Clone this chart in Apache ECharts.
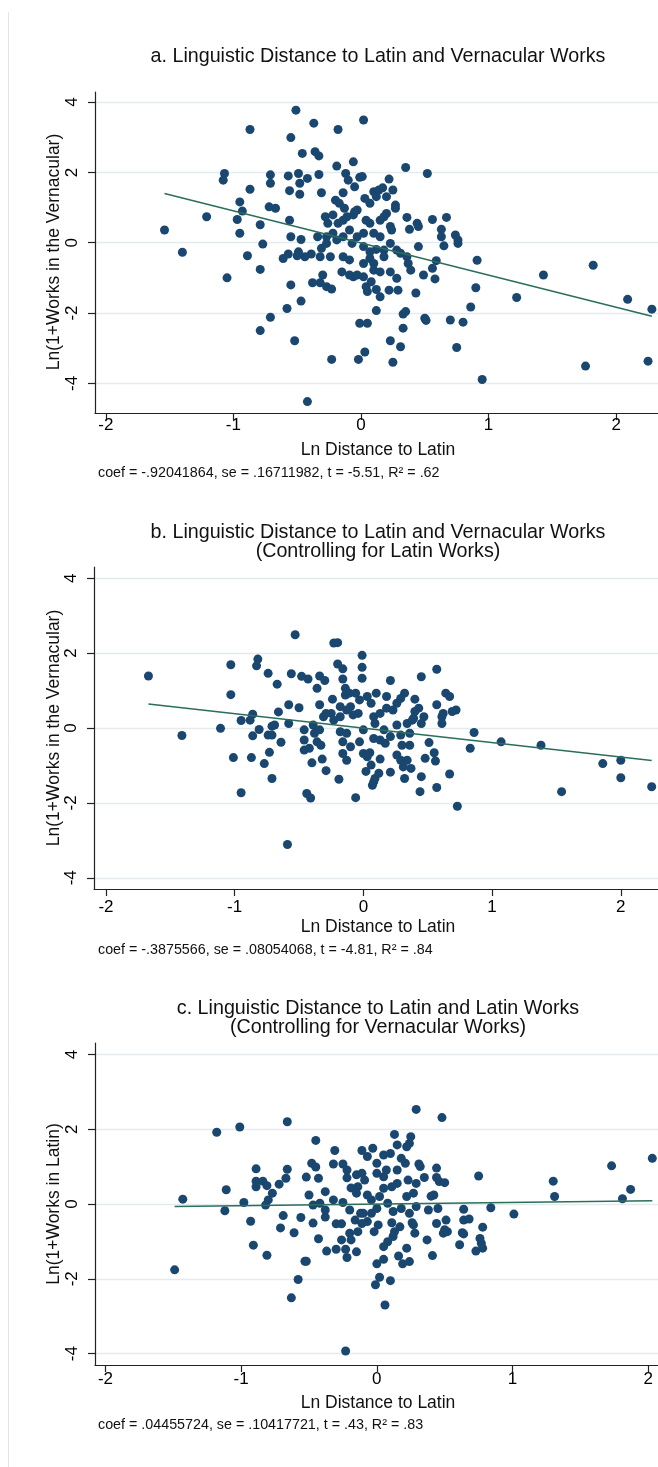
<!DOCTYPE html>
<html>
<head>
<meta charset="utf-8">
<script src="https://cdn.jsdelivr.net/npm/echarts@6/dist/echarts.min.js"></script>
<style>
  html, body { margin: 0; padding: 0; background: #ffffff; }
  #chart { width: 658px; height: 1467px; }
</style>
</head>
<body>
<div id="chart"></div>
<script>
// ---- Data: [ln distance to Latin, outcome] per panel ----

// a. ln(1+vernacular works) vs. ln distance to Latin
const pointsA = [
  [-0.51,3.77],[-0.87,3.22],[-0.37,3.40],[-0.18,3.22],[0.02,3.49],[-0.55,2.99],[-0.46,2.54],[-0.36,2.59],
  [-0.33,2.47],[-0.19,2.18],[-0.06,2.30],[-1.07,1.97],[-1.08,1.78],[-0.71,1.93],[-0.71,1.69],[-0.57,1.90],
  [-0.49,1.97],[-0.42,1.83],[-0.48,1.69],[-0.33,1.94],[-0.12,1.97],[-0.10,1.78],[-0.05,1.59],[-0.01,1.86],
  [0.01,1.88],[-0.87,1.52],[-0.56,1.48],[-0.48,1.38],[-0.31,1.42],[-0.14,1.42],[-0.20,1.21],[-0.17,1.12],
  [-0.13,0.98],[-0.95,1.16],[-0.93,0.90],[-0.72,1.02],[-0.67,0.98],[-1.21,0.74],[-0.97,0.66],[-0.56,0.64],
  [-0.79,0.51],[-1.54,0.36],[-0.95,0.27],[-0.55,0.17],[-0.47,0.09],[-0.77,-0.04],[-1.40,-0.27],[-0.89,-0.37],
  [-0.61,-0.45],[-0.57,-0.32],[-0.50,-0.37],[-0.49,-0.26],[-0.44,-0.40],[-0.39,-0.32],[-0.32,-0.40],[-0.31,-0.16],
  [-0.24,-0.40],[-0.34,0.17],[-0.27,0.17],[-0.26,0.55],[-0.28,0.74],[-0.22,0.79],[-0.18,0.55],[-0.14,0.64],
  [-0.11,0.74],[-0.06,0.79],[-0.05,0.88],[-0.09,0.36],[-0.03,0.17],[-0.22,0.27],[-0.27,-0.02],[-0.19,0.08],
  [-0.14,0.17],[-0.07,-0.02],[-0.14,-0.40],[-0.09,-0.49],[-0.15,-0.83],[-0.09,-0.92],[-0.06,-0.97],[-0.30,-0.92],
  [-0.38,-1.14],[-0.32,-1.14],[-0.27,-1.25],[-0.23,-1.32],[-0.55,-1.20],[-0.47,-1.66],[-0.58,-1.87],[-0.71,-2.12],
  [-0.79,-2.50],[-0.52,-2.79],[-0.23,-3.32],[-0.42,-4.52],[-1.05,-1.00],[-0.79,-0.76],[-0.02,-3.32],[0.03,-3.11],
  [-0.01,-2.29],[0.05,-2.29],[0.35,2.14],[0.52,1.97],[0.22,1.81],[0.25,1.50],[0.10,1.45],[0.14,1.50],
  [0.17,1.56],[0.20,1.31],[0.12,1.31],[0.03,1.26],[0.07,1.12],[-0.03,0.93],[0.27,1.07],[0.27,0.98],
  [0.20,0.83],[0.36,0.72],[0.56,0.66],[0.67,0.72],[0.44,0.55],[0.38,0.38],[0.45,0.46],[0.63,0.38],
  [0.63,0.17],[0.74,0.22],[0.76,0.08],[0.76,-0.02],[0.65,-0.09],[0.45,-0.11],[0.23,0.46],[0.24,0.36],
  [0.23,-0.02],[0.15,0.17],[0.10,0.27],[0.07,0.55],[0.02,0.27],[0.04,0.64],[0.15,0.64],[0.18,0.74],
  [0.02,-0.11],[0.07,-0.26],[0.12,-0.19],[0.18,-0.21],[0.28,-0.21],[0.31,-0.30],[0.36,-0.40],[0.37,-0.59],
  [0.39,-0.78],[0.59,-0.51],[0.56,-0.73],[0.49,-0.92],[0.58,-1.03],[0.91,-0.50],[1.43,-0.92],[1.82,-0.64],
  [0.90,-1.28],[1.22,-1.56],[2.09,-1.61],[2.28,-1.89],[0.86,-1.83],[0.70,-2.20],[0.80,-2.26],[0.50,-2.15],
  [0.51,-2.21],[0.43,-1.43],[0.33,-2.03],[0.35,-1.96],[0.33,-2.43],[0.12,-1.93],[0.23,-2.79],[0.31,-2.96],
  [0.25,-3.40],[0.75,-2.98],[0.95,-3.89],[1.76,-3.51],[2.25,-3.37],[0.12,-1.33],[0.04,-1.25],[0.08,-1.11],
  [0.05,-1.39],[0.15,-1.54],[0.22,-1.35],[0.29,-1.35],[0.28,-1.01],[0.23,-0.83],[0.15,-0.83],[0.10,-0.78],
  [0.02,-0.59],[0.10,-0.59],[0.07,-0.45],[0.18,-0.40],[-0.03,-0.92],[0.02,-0.97]
];
const fitA = [[-1.54, 1.40], [2.28, -2.09]];
const noteA = 'coef = -.92041864, se = .16711982, t = -5.51, R\u00b2 = .62';

// b. ln(1+vernacular works) vs. ln distance to Latin, controlling for Latin works
const pointsB = [
  [-1.67,1.39],[-1.41,-0.20],[-1.11,-0.01],[-1.03,1.69],[-1.03,0.89],[-0.82,1.84],[-0.83,1.66],[-0.74,1.46],
  [-0.67,1.17],[-0.56,1.45],[-0.53,2.49],[-0.48,1.38],[-0.43,1.31],[-0.34,1.39],[-0.30,1.27],[-0.36,1.06],
  [-0.23,2.27],[-0.20,2.28],[-0.20,1.71],[-0.16,1.58],[-0.16,1.31],[-0.14,1.06],[-0.11,0.93],[-0.14,0.88],
  [-0.58,0.62],[-0.50,0.54],[-0.66,0.43],[-0.86,0.37],[-0.88,0.21],[-0.95,0.20],[-0.81,-0.04],[-0.71,0.05],
  [-0.69,0.08],[-0.58,0.12],[-0.74,-0.19],[-0.71,-0.19],[-0.86,-0.21],[-0.64,-0.38],[-0.73,-0.65],[-1.01,-0.79],
  [-0.87,-0.79],[-0.77,-0.95],[-0.71,-1.35],[-0.95,-1.73],[-0.59,-3.11],[-0.44,-1.75],[-0.41,-1.87],[-0.06,-1.86],
  [-0.46,-0.32],[-0.46,-0.05],[-0.39,0.08],[-0.38,-0.14],[-0.34,-0.05],[-0.31,0.30],[-0.29,0.39],[-0.25,0.39],
  [-0.23,0.21],[-0.18,0.30],[-0.13,0.48],[-0.10,0.57],[-0.08,0.35],[-0.34,0.62],[-0.24,0.77],[-0.18,0.57],
  [-0.06,0.93],[-0.46,-0.59],[-0.42,-0.54],[-0.36,-0.37],[-0.33,-0.46],[-0.40,-0.93],[-0.32,-0.83],[-0.29,-1.14],
  [-0.19,-1.37],[-0.13,-0.86],[-0.16,-0.68],[-0.10,-0.50],[-0.16,-0.37],[-0.18,-0.10],[-0.13,-0.14],
  [-0.01,1.94],[-0.01,1.62],[-0.01,1.33],[0.21,1.27],[0.45,1.37],[0.57,1.57],[0.64,0.93],[0.67,0.84],
  [0.57,0.62],[0.72,0.48],[0.69,0.44],[0.62,0.39],[0.61,0.30],[0.61,0.12],[0.40,0.77],[0.32,0.93],
  [0.29,0.79],[0.43,0.53],[0.39,0.26],[0.47,0.30],[0.45,0.12],[0.86,-0.12],[0.83,-0.54],[1.07,-0.37],
  [1.38,-0.46],[1.86,-0.95],[2.00,-0.86],[2.00,-1.33],[1.54,-1.70],[2.24,-1.57],[0.73,-2.09],[0.67,-1.23],
  [0.57,-1.59],[0.44,-1.70],[0.45,-1.30],[0.55,-0.66],[0.56,-0.88],[0.51,-0.39],[0.48,-0.81],[0.37,-1.08],
  [0.32,-1.35],[0.21,-1.18],[0.07,-1.53],[0.09,-1.35],[0.12,-1.21],[0.02,-1.16],[0.06,-0.99],[0.13,-0.83],
  [0.26,-0.72],[0.29,-0.86],[0.34,-0.86],[0.31,-1.04],[0.00,-0.68],[0.05,-0.66],[0.03,-0.77],[-0.03,-0.37],
  [0.08,-0.28],[0.13,-0.32],[0.17,-0.41],[0.21,-0.23],[0.29,-0.19],[0.36,-0.14],[0.36,-0.46],[0.30,-0.46],
  [0.00,-0.05],[0.09,0.12],[0.16,-0.05],[0.26,0.08],[0.34,0.12],[-0.04,0.39],[0.08,0.30],[0.13,0.39],
  [0.18,0.53],[0.23,0.48],[0.38,0.21],[0.40,0.44],[-0.03,0.75],[0.03,0.84],[0.06,0.66],[0.10,0.93],
  [0.18,0.84],[0.26,0.66],[0.08,-1.44]
];
const fitB = [[-1.67, 0.64], [2.24, -0.87]];
const noteB = 'coef = -.3875566, se = .08054068, t = -4.81, R\u00b2 = .84';

// c. ln(1+Latin works) vs. ln distance to Latin, controlling for vernacular works
const pointsC = [
  [-1.49,-1.76],[-1.43,0.13],[-1.18,1.92],[-1.01,2.06],[-0.66,2.20],[-0.45,1.70],[-1.11,0.38],[-1.12,-0.18],
  [-0.98,0.04],[-0.93,-0.46],[-0.91,-1.10],[-0.81,-1.37],[-0.89,0.94],[-0.89,0.61],[-0.89,0.46],[-0.84,0.61],
  [-0.81,0.49],[-0.77,0.29],[-0.80,0.11],[-0.82,-0.03],[-0.72,0.53],[-0.66,0.93],[-0.67,0.69],[-0.69,-0.31],
  [-0.71,-0.64],[-0.61,-0.77],[-0.56,-0.36],[-0.52,0.72],[-0.48,1.09],[-0.45,0.99],[-0.43,0.69],[-0.50,0.24],
  [-0.47,-0.51],[-0.43,-0.93],[-0.53,-1.53],[-0.52,-1.53],[-0.58,-2.02],[-0.63,-2.51],[-0.37,-1.26],[-0.38,0.33],
  [-0.38,-0.35],[-0.47,-0.03],[-0.42,0.02],[-0.38,-0.16],[-0.32,0.11],[-0.25,0.04],[-0.20,-0.16],[-0.31,1.43],
  [-0.32,1.07],[-0.25,1.07],[-0.22,0.91],[-0.22,0.70],[-0.15,0.78],[-0.11,0.82],[-0.09,0.64],[-0.14,0.46],
  [-0.19,0.43],[-0.15,0.29],[-0.07,0.24],[-0.12,-0.25],[-0.16,-0.43],[-0.07,-0.47],[-0.14,-0.74],[-0.11,1.43],
  [-0.07,1.27],[-0.30,-0.53],[-0.26,-0.53],[-0.20,-0.78],[-0.26,-0.96],[-0.19,-0.96],[-0.30,-1.21],[-0.23,-1.21],
  [-0.22,-1.43],[-0.15,-1.28],[-0.23,-3.93],[-0.11,-0.52],[-0.10,-0.25],
  [0.29,2.53],[0.48,2.31],[0.13,1.86],[0.25,1.80],[0.15,1.58],[0.22,1.53],[0.24,1.62],[-0.03,1.49],
  [0.05,1.31],[0.10,1.35],[0.18,1.22],[0.21,1.09],[0.15,0.91],[0.31,1.07],[0.32,1.00],[0.44,0.96],
  [0.35,0.71],[0.44,0.71],[0.46,0.60],[0.50,0.57],[0.75,0.75],[1.30,0.61],[1.31,0.20],[1.73,1.02],
  [2.03,1.22],[1.87,0.39],[1.81,0.14],[0.84,-0.10],[1.01,-0.27],[0.64,-0.14],[0.64,-0.43],[0.68,-0.40],
  [0.78,-0.62],[0.63,-0.77],[0.64,-0.80],[0.61,-1.09],[0.76,-0.92],[0.77,-1.05],[0.78,-1.18],[0.73,-1.26],
  [0.50,-0.69],[0.52,-0.74],[0.49,-0.78],[0.37,-0.96],[0.41,-1.38],[0.44,-0.52],[0.51,-0.43],[0.45,-0.12],
  [0.38,-0.16],[0.42,0.24],[0.40,0.21],[0.28,-0.78],[0.27,-0.56],[0.24,-0.25],[0.29,-0.07],[0.22,0.20],
  [0.27,0.29],[0.29,0.55],[0.23,0.64],[0.22,-1.18],[0.16,-1.39],[0.19,-1.60],[0.24,-1.54],[0.05,-1.48],
  [0.00,-1.60],[0.02,-1.96],[-0.01,-2.16],[0.10,-2.05],[0.06,-2.70],[0.12,-0.87],[0.08,-1.01],[0.05,-1.14],
  [0.13,-0.74],[-0.02,-0.74],[0.01,-0.56],[0.11,-0.50],[0.17,-0.61],[0.26,-0.50],[-0.04,-0.25],[0.00,-0.12],
  [0.08,0.02],[0.12,-0.20],[0.18,-0.12],[-0.04,0.11],[0.02,0.20],[0.05,0.42],[0.11,0.46],[0.15,0.55],
  [0.05,0.73],[0.00,0.82],[0.07,0.91],[0.00,1.09]
];
const fitC = [[-1.49, -0.07], [2.03, 0.09]];
const noteC = 'coef = .04455724, se = .10417721, t = .43, R\u00b2 = .83';

// Axis ticks and titles
const xTicks = [-2, -1, 0, 1, 2];
const yTicks = [-4, -2, 0, 2, 4];
const xTitle = 'Ln Distance to Latin';
const yTitles = ['Ln(1+Works in the Vernacular)', 'Ln(1+Works in the Vernacular)', 'Ln(1+Works in Latin)'];
const panelTitles = [
  'a. Linguistic Distance to Latin and Vernacular Works',
  'b. Linguistic Distance to Latin and Vernacular Works\n(Controlling for Latin Works)',
  'c. Linguistic Distance to Latin and Latin Works\n(Controlling for Vernacular Works)'
];

// ---- Layout ----
const FONT = '"Liberation Sans", Arial, Helvetica, sans-serif';
const NAVY = '#1a476f';
const FIT = '#2b6e5b';
const AXIS = '#222222';
const GRID = '#e3ebee';

const grids = [
  { left: 95, top: 92,   width: 563, height: 321 },
  { left: 94, top: 567,  width: 564, height: 322 },
  { left: 95, top: 1043, width: 563, height: 322 }
];
const xRanges = [[-2.085, 2.328], [-2.093, 2.289], [-2.077, 2.072]];
const yRanges = [[-4.844, 4.287], [-4.30, 4.30], [-4.305, 4.305]];
const xLabelMargin = [4, 10, 6];
const titleY = [57, 542, 1018];
const xTitleY = [450, 927, 1403];
const noteY = [473, 950, 1425];
const yTitleY = [252, 728, 1204];

const panels = [
  { pts: pointsA, fit: fitA, note: noteA },
  { pts: pointsB, fit: fitB, note: noteB },
  { pts: pointsC, fit: fitC, note: noteC }
];

const axisLineStyle = { color: AXIS, width: 1.2 };

const option = {
  animation: false,
  backgroundColor: '#ffffff',
  grid: grids.map(g => Object.assign({ containLabel: false }, g)),
  xAxis: panels.map((p, i) => ({
    type: 'value', gridIndex: i, min: xRanges[i][0], max: xRanges[i][1],
    axisLine: { show: true, onZero: false, lineStyle: axisLineStyle },
    axisTick: { show: true, length: 7, customValues: xTicks, lineStyle: axisLineStyle },
    axisLabel: { customValues: xTicks, fontSize: 17, color: '#000', fontFamily: FONT, margin: xLabelMargin[i] },
    splitLine: { show: false }
  })),
  yAxis: panels.map((p, i) => ({
    type: 'value', gridIndex: i, min: yRanges[i][0], max: yRanges[i][1],
    axisLine: { show: true, onZero: false, lineStyle: axisLineStyle },
    axisTick: { show: true, length: 7, customValues: yTicks, lineStyle: axisLineStyle },
    axisLabel: { customValues: yTicks, rotate: 90, fontSize: 17, color: '#000', fontFamily: FONT, margin: 14 },
    splitLine: { show: true, lineStyle: { color: GRID, width: 1.3 } }
  })),
  series: panels.flatMap((p, i) => [
    {
      type: 'scatter', xAxisIndex: i, yAxisIndex: i, data: p.pts,
      symbol: 'circle', symbolSize: 9,
      itemStyle: { color: NAVY, opacity: 1 }, z: 3
    },
    {
      type: 'line', xAxisIndex: i, yAxisIndex: i, data: p.fit,
      symbol: 'none', lineStyle: { color: FIT, width: 1.5 }, z: 4
    }
  ]),
  graphic: [
    { type: 'line', shape: { x1: 8.5, y1: 12, x2: 8.5, y2: 1467 },
      style: { stroke: '#e4e4e4', lineWidth: 1 }, silent: true },
    ...panelTitles.map((t, i) => ({
      type: 'text', x: 378, y: titleY[i], silent: true,
      style: { text: t, fill: '#111', fontSize: 19.7, fontFamily: FONT, lineHeight: 19,
               align: 'center', verticalAlign: 'middle' }
    })),
    ...panels.map((p, i) => ({
      type: 'text', x: 378, y: xTitleY[i], silent: true,
      style: { text: xTitle, fill: '#111', fontSize: 17.5, fontFamily: FONT,
               align: 'center', verticalAlign: 'middle' }
    })),
    ...panels.map((p, i) => ({
      type: 'text', x: 98, y: noteY[i], silent: true,
      style: { text: p.note, fill: '#111', fontSize: 14.3, fontFamily: FONT,
               align: 'left', verticalAlign: 'middle' }
    })),
    ...yTitles.map((t, i) => ({
      type: 'text', x: 54, y: yTitleY[i], rotation: Math.PI / 2, silent: true,
      style: { text: t, fill: '#111', fontSize: 17.5, fontFamily: FONT,
               align: 'center', verticalAlign: 'middle' }
    }))
  ]
};

const chart = echarts.init(document.getElementById('chart'), null, { renderer: 'canvas' });
chart.setOption(option);
</script>
</body>
</html>
